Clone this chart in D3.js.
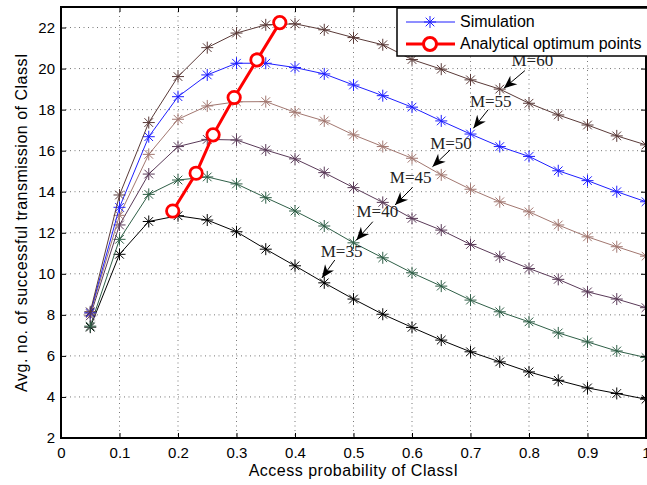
<!DOCTYPE html>
<html>
<head>
<meta charset="utf-8">
<script src="https://cdn.jsdelivr.net/npm/d3@7"></script>
<style>
  body { margin: 0; background: #fff; }
  svg { font-family: "Liberation Sans", Arial, sans-serif; }
  .tick text { font-size: 15px; fill: #000; }
  .grid line { stroke: #777; stroke-dasharray: 1,3.5; }
  .label { font-size: 16px; letter-spacing: 0.5px; text-anchor: middle; }
  .note { font-family: "Liberation Serif", "DejaVu Serif", serif; font-size: 17px; fill: #222; }
  .legend text { font-size: 16px; }
</style>
</head>
<body>
<svg width="647" height="485"></svg>
<script>
const w = 647, h = 485;
const plotL = 61, plotR = 646, plotT = 7, plotB = 438;

// access probability of ClassI
const probs = [0.05, 0.1, 0.15, 0.2, 0.25, 0.3, 0.35, 0.4, 0.45, 0.5,
               0.55, 0.6, 0.65, 0.7, 0.75, 0.8, 0.85, 0.9, 0.95, 1.0];

const simM35 = [7.4, 10.95, 12.55, 12.83, 12.62, 12.05, 11.2, 10.39, 9.56, 8.77,
                8.03, 7.39, 6.77, 6.2, 5.71, 5.22, 4.81, 4.44, 4.17, 3.89];
const simM40 = [7.45, 11.68, 13.87, 14.57, 14.72, 14.38, 13.71, 13.06, 12.33, 11.51,
                10.78, 10.05, 9.4, 8.72, 8.15, 7.66, 7.12, 6.68, 6.24, 5.92];
const simM45 = [7.95, 12.38, 14.86, 16.2, 16.55, 16.52, 16.03, 15.6, 14.93, 14.2,
                13.48, 12.7, 12.13, 11.43, 10.83, 10.26, 9.73, 9.12, 8.77, 8.35];
const simM50 = [8.05, 12.85, 15.82, 17.53, 18.18, 18.38, 18.39, 17.87, 17.45, 16.77,
                16.2, 15.63, 14.82, 14.12, 13.51, 13.02, 12.38, 11.8, 11.32, 10.86];
const simM55 = [8.1, 13.24, 16.68, 18.63, 19.69, 20.26, 20.26, 20.05, 19.74, 19.2,
                18.68, 18.12, 17.45, 16.81, 16.2, 15.72, 15.02, 14.54, 14.0, 13.51];
const simM60 = [8.15, 13.84, 17.37, 19.61, 21.02, 21.73, 22.13, 22.18, 21.89, 21.51,
                21.16, 20.44, 19.97, 19.45, 19.0, 18.31, 17.74, 17.25, 16.72, 16.28];

// analytical optimum points (p*, value)
const optX = [0.191, 0.231, 0.260, 0.296, 0.335, 0.374];
const optY = [13.06, 14.9, 16.77, 18.59, 20.42, 22.24];

const seriesNames = ["M=35", "M=40", "M=45", "M=50", "M=55", "M=60"];
const seriesColors = ["#000000", "#2f5f47", "#5a3a58", "#a27770", "#1f1fff", "#5a3a38"];
const seriesValues = [simM35, simM40, simM45, simM50, simM55, simM60];

// annotations, in data units: text start, arrow tail, arrow tip
const noteTextX = [0.444, 0.505, 0.562, 0.631, 0.699, 0.770];
const noteTextY = [10.81, 12.77, 14.42, 16.08, 18.13, 20.13];
const noteTailX = [0.468, 0.533, 0.601, 0.665, 0.730, 0.793];
const noteTailY = [10.67, 12.54, 14.21, 16.03, 17.99, 19.90];
const noteTipX  = [0.446, 0.505, 0.571, 0.635, 0.705, 0.757];
const noteTipY  = [9.80, 11.64, 13.35, 15.22, 17.09, 19.04];

const xTicks = [0, 0.1, 0.2, 0.3, 0.4, 0.5, 0.6, 0.7, 0.8, 0.9, 1];
const yTicks = [2, 4, 6, 8, 10, 12, 14, 16, 18, 20, 22];

const scaleX = d3.scaleLinear().domain([0, 1]).range([plotL, plotR]);
const scaleY = d3.scaleLinear().domain([2, 23]).range([plotB, plotT]);

const svg = d3.select("svg");

function star(size) {
    const a = size, b = size * 0.72;
    return `M${-a},0L${a},0M0,${-a}L0,${a}M${-b},${-b}L${b},${b}M${-b},${b}L${b},${-b}`;
}

drawGrid();
drawSeries();
drawOptimum();
drawNotes();
drawAxes();
drawLegend();

function drawGrid() {
    const g = svg.append("g").attr("class", "grid");
    g.selectAll("line.vx").data(xTicks.slice(1, -1)).join("line").attr("class", "vx")
            .attr("x1", d => scaleX(d)).attr("x2", d => scaleX(d))
            .attr("y1", plotT).attr("y2", plotB);
    g.selectAll("line.hy").data(yTicks.slice(1)).join("line").attr("class", "hy")
            .attr("y1", d => scaleY(d)).attr("y2", d => scaleY(d))
            .attr("x1", plotL).attr("x2", plotR);
}

function drawSeries() {
    const line = d3.line().x((d, i) => scaleX(probs[i])).y(d => scaleY(d));
    seriesValues.forEach(function(vals, k) {
        const g = svg.append("g").attr("class", "series");
        g.append("path").attr("d", line(vals))
                .attr("fill", "none").attr("stroke", seriesColors[k]).attr("stroke-width", 1);
        g.selectAll("path.mk").data(vals).join("path").attr("class", "mk")
                .attr("d", star(6))
                .attr("transform", (d, i) => `translate(${[scaleX(probs[i]), scaleY(d)]})`)
                .attr("stroke", seriesColors[k]).attr("stroke-width", 1);
    });
}

function drawOptimum() {
    const pts = optX.map((x, i) => [x, optY[i]]);
    svg.append("path")
            .attr("d", d3.line().x(d => scaleX(d[0])).y(d => scaleY(d[1]))(pts))
            .attr("fill", "none").attr("stroke", "#ff0000").attr("stroke-width", 3);
    svg.selectAll("circle.opt").data(pts).join("circle").attr("class", "opt")
            .attr("cx", d => scaleX(d[0])).attr("cy", d => scaleY(d[1]))
            .attr("r", 6.2).attr("fill", "#fff").attr("stroke", "#ff0000").attr("stroke-width", 2.8);
}

function drawNotes() {
    seriesNames.forEach(function(name, k) {
        const tip = [scaleX(noteTipX[k]), scaleY(noteTipY[k])];
        const tail = [scaleX(noteTailX[k]), scaleY(noteTailY[k])];
        const ang = Math.atan2(tip[1] - tail[1], tip[0] - tail[0]);
        const g = svg.append("g").attr("class", "note-g");
        g.append("line")
                .attr("x1", tail[0]).attr("y1", tail[1]).attr("x2", tip[0]).attr("y2", tip[1])
                .attr("stroke", "#000").attr("stroke-width", 1);
        const L = 13, W = 5.5, back = 9;
        const ca = Math.cos(ang), sa = Math.sin(ang);
        const p1 = [tip[0] - L * ca - W * sa, tip[1] - L * sa + W * ca];
        const p2 = [tip[0] - back * ca, tip[1] - back * sa];
        const p3 = [tip[0] - L * ca + W * sa, tip[1] - L * sa - W * ca];
        g.append("path").attr("d", `M${tip}L${p1}L${p2}L${p3}Z`).attr("fill", "#000");
        g.append("text").attr("class", "note")
                .attr("x", scaleX(noteTextX[k])).attr("y", scaleY(noteTextY[k]))
                .text(name);
    });
}

function drawAxes() {
    const axisB = d3.axisBottom(scaleX).tickValues(xTicks).tickSize(-5).tickPadding(9)
            .tickFormat(d3.format("~g"));
    const axisL = d3.axisLeft(scaleY).tickValues(yTicks).tickSize(-5).tickPadding(6);
    const axisT = d3.axisTop(scaleX).tickValues(xTicks).tickSize(-5).tickFormat("");
    const axisR = d3.axisRight(scaleY).tickValues(yTicks).tickSize(-5).tickFormat("");

    svg.append("g").attr("transform", `translate(${[0, plotB]})`).call(axisB);
    svg.append("g").attr("transform", `translate(${[plotL, 0]})`).call(axisL);
    svg.append("g").attr("transform", `translate(${[0, plotT]})`).call(axisT);
    svg.append("g").attr("transform", `translate(${[plotR, 0]})`).call(axisR);
    svg.selectAll(".domain").attr("stroke", "#000").attr("stroke-width", 1);
    svg.selectAll(".tick line").attr("stroke", "#000");

    svg.append("rect").attr("x", plotL).attr("y", plotT)
            .attr("width", plotR - plotL).attr("height", plotB - plotT)
            .attr("fill", "none").attr("stroke", "#000").attr("stroke-width", 2);

    svg.append("text").attr("class", "label")
            .text("Access probability of ClassI")
            .attr("transform", `translate(${[(plotL + plotR) / 2, 476]})`);
    svg.append("text").attr("class", "label")
            .text("Avg. no. of successful transmission of ClassI")
            .attr("transform", `translate(${[27, (plotT + plotB) / 2]}) rotate(-90)`);
}

function drawLegend() {
    const lg = svg.append("g").attr("class", "legend").attr("transform", `translate(${[397, 8]})`);
    lg.append("rect").attr("width", 252).attr("height", 48)
            .attr("fill", "#fff").attr("stroke", "#000").attr("stroke-width", 1.5);
    lg.append("line").attr("x1", 9).attr("x2", 58).attr("y1", 14).attr("y2", 14)
            .attr("stroke", seriesColors[4]).attr("stroke-width", 1);
    lg.append("path").attr("d", star(6)).attr("transform", "translate(33,14)")
            .attr("stroke", seriesColors[4]);
    lg.append("text").attr("x", 63).attr("y", 19).text("Simulation");
    lg.append("line").attr("x1", 9).attr("x2", 58).attr("y1", 36).attr("y2", 36)
            .attr("stroke", "#ff0000").attr("stroke-width", 3);
    lg.append("circle").attr("cx", 33).attr("cy", 36).attr("r", 6.5)
            .attr("fill", "#fff").attr("stroke", "#ff0000").attr("stroke-width", 3);
    lg.append("text").attr("x", 63).attr("y", 41).text("Analytical optimum points");
}
</script>
</body>
</html>
